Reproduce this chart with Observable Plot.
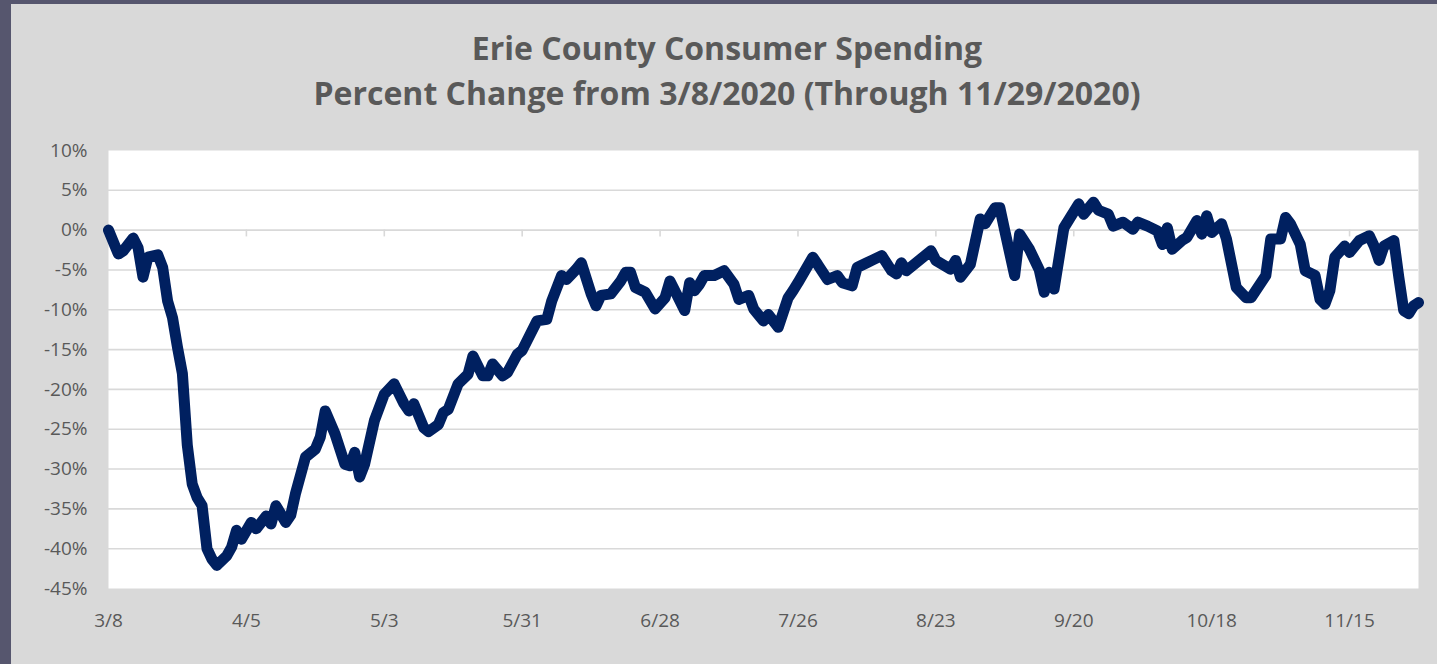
<!DOCTYPE html>
<html>
<head>
<meta charset="utf-8">
<script src="https://cdn.jsdelivr.net/npm/d3@7"></script>
<script src="https://cdn.jsdelivr.net/npm/@observablehq/plot@0.6"></script>
<style>
  html, body { margin: 0; padding: 0; }
  body { width: 1437px; height: 664px; background: #56566e; position: relative; overflow: hidden; }
  #panel { position: absolute; left: 11px; top: 4px; width: 1426px; height: 660px; background: #d9d9d9; }
  .title { position: absolute; left: 716px; transform: translateX(-50%); white-space: nowrap;
           font-family: "Open Sans", sans-serif; font-weight: 700; font-size: 32px; color: #595959; line-height: 1; }
  #t1 { top: 28px; }
  #t2 { top: 73px; }
  #chart { position: absolute; left: 0; top: 122px; }
</style>
</head>
<body>
<div id="panel">
  <div class="title" id="t1">Erie County Consumer Spending</div>
  <div class="title" id="t2">Percent Change from 3/8/2020 (Through 11/29/2020)</div>
  <div id="chart"></div>
</div>
<script>
const dates = ["3/8","3/10","3/11","3/13","3/14","3/15","3/16","3/18","3/19","3/20","3/21","3/22","3/23","3/24","3/25","3/26","3/27","3/28","3/29","3/30",
  "4/1","4/2","4/3","4/4","4/6","4/7","4/9","4/10","4/11","4/13","4/14","4/15","4/17","4/18","4/19","4/20","4/21","4/23","4/25","4/26","4/27","4/28","4/29",
  "5/1","5/3","5/5","5/7","5/8","5/9","5/11","5/12","5/14","5/15","5/16","5/18","5/20","5/21","5/23","5/24","5/25","5/27","5/28","5/30","5/31",
  "6/3","6/5","6/6","6/8","6/9","6/11","6/12","6/14","6/15","6/16","6/18","6/20","6/21","6/22","6/23","6/25","6/27","6/29","6/30",
  "7/1","7/3","7/4","7/5","7/6","7/7","7/9","7/11","7/13","7/14","7/16","7/17","7/19","7/20","7/22","7/24","7/25","7/26","7/29","7/30",
  "8/1","8/3","8/4","8/6","8/7","8/9","8/10","8/12","8/14","8/15","8/16","8/17","8/20","8/22","8/23","8/26","8/27","8/28","8/30",
  "9/1","9/2","9/4","9/5","9/6","9/8","9/9","9/11","9/13","9/14","9/15","9/16","9/18","9/21","9/22","9/24","9/25","9/27","9/28","9/30",
  "10/2","10/3","10/5","10/7","10/8","10/9","10/10","10/12","10/13","10/15","10/16","10/17","10/18","10/20","10/21","10/23","10/25","10/26","10/29","10/30",
  "11/1","11/2","11/3","11/5","11/6","11/8","11/9","11/10","11/11","11/12","11/14","11/15","11/17","11/19","11/20","11/21","11/22","11/24","11/25","11/26","11/27","11/28","11/29"];
const values = [0.0,-3.0,-2.6,-1.0,-2.2,-5.9,-3.4,-3.1,-4.7,-8.9,-11.0,-14.7,-18.0,-27.0,-31.9,-33.6,-34.6,-40.0,-41.3,-42.1,
  -40.9,-39.8,-37.7,-38.8,-36.7,-37.5,-35.9,-36.9,-34.6,-36.7,-35.8,-33.0,-28.5,-28.0,-27.5,-26.0,-22.7,-25.6,-29.4,-29.6,-27.9,-31.0,-29.4,
  -23.9,-20.6,-19.3,-21.8,-22.7,-21.8,-24.8,-25.3,-24.4,-22.9,-22.5,-19.3,-18.1,-15.8,-18.3,-18.3,-16.8,-18.3,-17.9,-15.6,-15.1,
  -11.4,-11.2,-8.9,-5.7,-6.2,-4.9,-4.1,-8.0,-9.5,-8.2,-8.0,-6.4,-5.3,-5.3,-7.2,-7.8,-9.9,-8.5,-6.4,
  -7.6,-10.1,-6.6,-7.6,-6.8,-5.7,-5.7,-5.1,-6.8,-8.7,-8.2,-9.9,-11.4,-10.6,-12.2,-8.5,-7.6,-6.6,-3.4,-4.3,
  -6.2,-5.7,-6.6,-7.0,-4.7,-4.1,-3.8,-3.2,-5.1,-5.5,-4.1,-5.1,-3.6,-2.6,-3.8,-4.9,-3.8,-5.9,-4.3,
  1.4,0.8,2.8,2.8,-0.1,-5.7,-0.5,-2.4,-5.0,-7.8,-5.3,-7.4,0.3,3.3,2.0,3.5,2.5,2.0,0.5,1.0,
  0.1,1.0,0.5,-0.1,-1.8,0.3,-2.4,-1.3,-0.9,1.2,-0.5,1.8,-0.3,0.8,-1.1,-7.2,-8.5,-8.5,-5.7,-1.1,
  -1.1,1.6,0.8,-1.8,-5.1,-5.7,-8.7,-9.3,-7.6,-3.4,-2.0,-2.8,-1.3,-0.7,-2.0,-3.8,-2.0,-1.3,-5.9,-10.1,-10.5,-9.5,-9.1];
const xTickLabels = ["3/8","4/5","5/3","5/31","6/28","7/26","8/23","9/20","10/18","11/15"];
const yTickValues = [10,5,0,-5,-10,-15,-20,-25,-30,-35,-40,-45];
const gridValues = [5,0,-5,-10,-15,-20,-25,-30,-35,-40];
const year = "2020";

const parse = d3.utcParse("%m/%d/%Y");
const data = dates.map((d, i) => ({date: parse(d + "/" + year), value: values[i]}));
const xTicks = xTickLabels.map(d => parse(d + "/" + year));
const fmt = d3.utcFormat("%-m/%-d");

const chart = Plot.plot({
  width: 1426,
  height: 542,
  marginLeft: 97,
  marginRight: 19,
  marginTop: 24,
  marginBottom: 80,
  style: {background: "transparent", fontFamily: "'Open Sans', sans-serif", color: "#595959"},
  x: {type: "utc", domain: [parse("3/8/2020"), parse("11/29/2020")]},
  y: {domain: [-45, 10]},
  marks: [
    Plot.frame({fill: "white", stroke: "none"}),
    Plot.ruleY(gridValues, {stroke: "#d9d9d9", strokeWidth: 1.6}),
    Plot.ruleX(xTicks, {y1: 0, y2: -0.85, stroke: "#d9d9d9", strokeWidth: 1.6}),
    Plot.axisX({ticks: xTicks, tickFormat: fmt, tickSize: 0, tickPadding: 25, fontSize: 19, fill: "#595959", label: null}),
    Plot.axisY({ticks: yTickValues, tickFormat: d => d + "%", tickSize: 0, tickPadding: 21, fontSize: 19, fill: "#595959", label: null}),
    Plot.lineY(data, {x: "date", y: "value", stroke: "#002060", strokeWidth: 11, strokeLinejoin: "round", strokeLinecap: "round"})
  ]
});
document.getElementById("chart").appendChild(chart);
</script>
</body>
</html>
